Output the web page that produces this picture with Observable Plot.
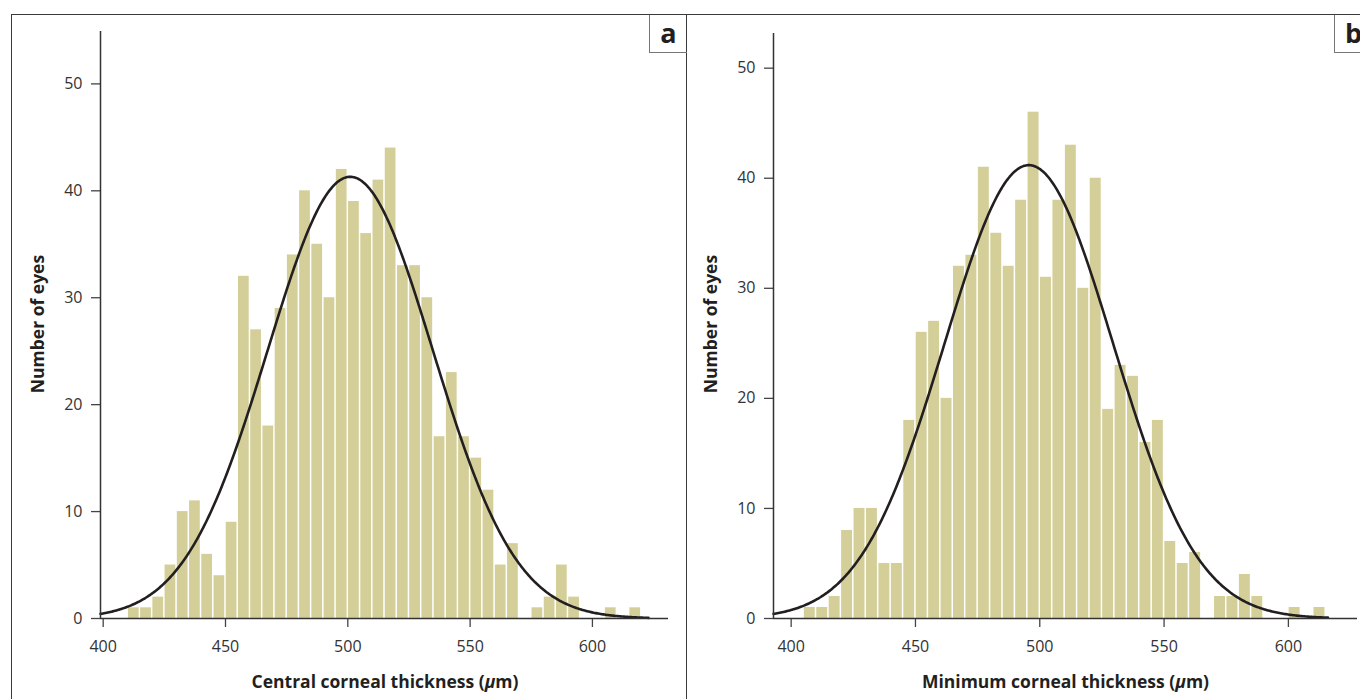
<!DOCTYPE html>
<html>
<head>
<meta charset="utf-8">
<script src="https://cdn.jsdelivr.net/npm/d3@7"></script>
<script src="https://cdn.jsdelivr.net/npm/@observablehq/plot@0.6"></script>
<style>
  html, body { margin: 0; padding: 0; background: #fff; }
  body { width: 1360px; height: 699px; position: relative; overflow: hidden; font-family: "Open Sans", sans-serif; }
  .panel { position: absolute; top: 0; width: 686px; height: 699px; }
  .panel svg { max-width: none !important; }
  .frame { position: absolute; box-sizing: border-box; border-top: 1.5px solid #3a3a3a; border-left: 1.5px solid #3a3a3a; }
  .tag { position: absolute; box-sizing: border-box; width: 38px; height: 38px; border-left: 1px solid #777; border-bottom: 1px solid #777;
         font: bold 27px "Open Sans", sans-serif; color: #231f20; display: flex; align-items: center; justify-content: center; line-height: 1; padding-bottom: 3px; }
</style>
</head>
<body>
<div class="frame" style="left:11px;top:14px;width:676px;height:720px;"></div>
<div class="frame" style="left:686px;top:14px;width:720px;height:720px;"></div>
<div id="pa" class="panel" style="left:0px;"></div>
<div id="pb" class="panel" style="left:686px;"></div>
<div class="tag" style="left:649px;top:15px;">a</div>
<div class="tag" style="left:1334px;top:15px;">b</div>
<script>
// ---- Data ----
const binWidth = 5;
// Panel a: Central corneal thickness
const binStartsA = [410,415,420,425,430,435,440,445,450,455,460,465,470,475,480,485,490,495,500,505,510,515,520,525,530,535,540,545,550,555,560,565,570,575,580,585,590,595,600,605,610,615];
const countsA    = [1,1,2,5,10,11,6,4,9,32,27,18,29,34,40,35,30,42,39,36,41,44,33,33,30,17,23,17,15,12,5,7,0,1,2,5,2,0,0,1,0,1];
// Panel b: Minimum corneal thickness
const binStartsB = [405,410,415,420,425,430,435,440,445,450,455,460,465,470,475,480,485,490,495,500,505,510,515,520,525,530,535,540,545,550,555,560,565,570,575,580,585,590,595,600,605,610];
const countsB    = [1,1,2,8,10,10,5,5,18,26,27,20,32,33,41,35,32,38,46,31,38,43,30,40,19,23,22,16,18,7,5,6,0,2,2,4,2,0,0,1,0,1];
const fitA = {mean: 501, sd: 33.8, n: 700, from: 398.9, to: 623};
const fitB = {mean: 495.6, sd: 33.9, n: 700, from: 392.9, to: 616};
const ticksX = [400, 450, 500, 550, 600];
const ticksY = [0, 10, 20, 30, 40, 50];
const labelsA = {x: "Central corneal thickness (", y: "Number of eyes"};
const labelsB = {x: "Minimum corneal thickness (", y: "Number of eyes"};

function bins(starts, counts) {
  return starts.map((s, i) => ({x1: s, x2: s + binWidth, count: counts[i]})).filter(d => d.count > 0);
}
function normalCurve(fit) {
  const pts = [];
  const k = fit.n * binWidth / (fit.sd * Math.sqrt(2 * Math.PI));
  for (let x = fit.from; x <= fit.to + 1e-9; x += 0.5) {
    const z = (x - fit.mean) / fit.sd;
    pts.push({x, y: k * Math.exp(-0.5 * z * z)});
  }
  return pts;
}

function panel(opts) {
  const {data, curve, xDomain, yMax, margins, width} = opts;
  const svg = Plot.plot({
    width, height: 699,
    marginLeft: margins[0], marginRight: margins[1], marginTop: margins[2], marginBottom: margins[3],
    x: {domain: xDomain},
    y: {domain: [0, yMax]},
    style: {fontFamily: "'Open Sans', sans-serif", fontSize: "16px", color: "#333", background: "transparent", overflow: "visible", maxWidth: "none"},
    marks: [
      Plot.rectY(data, {x1: "x1", x2: "x2", y: "count", fill: "#d4cf99", insetLeft: 0.75, insetRight: 0.75}),
      Plot.line(curve, {x: "x", y: "y", stroke: "#231f20", strokeWidth: 2.6}),
      Plot.axisX({ticks: ticksX, tickSize: 9, tickPadding: 13, label: null, stroke: "#444", strokeWidth: 1.3, fill: "#333", fontSize: 16}),
      Plot.axisY({ticks: ticksY, tickSize: 9, tickPadding: 9, label: null, stroke: "#444", strokeWidth: 1.3, fill: "#333", fontSize: 16}),
      Plot.ruleX([xDomain[0]], {y1: 0, y2: yMax, stroke: "#333", strokeWidth: 1.5}),
      Plot.ruleY([0], {x1: xDomain[0], x2: xDomain[1], stroke: "#333", strokeWidth: 1.5})
    ]
  });
  const s = d3.select(svg);
  const xl = s.append("text")
    .attr("x", opts.xLabelPos[0]).attr("y", opts.xLabelPos[1])
    .attr("text-anchor", "middle").attr("font-weight", "bold").attr("font-size", 17.5)
    .attr("fill", "#231f20").attr("font-family", "'Open Sans', sans-serif");
  xl.append("tspan").text(opts.labels.x);
  xl.append("tspan").attr("font-style", "italic").text("μ");
  xl.append("tspan").text("m)");
  s.append("text")
    .attr("transform", `translate(${opts.yLabelPos[0]},${opts.yLabelPos[1]}) rotate(-90)`)
    .attr("text-anchor", "middle").attr("font-weight", "bold").attr("font-size", 17.5)
    .attr("fill", "#231f20").attr("font-family", "'Open Sans', sans-serif")
    .text(opts.labels.y);
  return svg;
}

document.getElementById("pa").appendChild(panel({
  data: bins(binStartsA, countsA), curve: normalCurve(fitA),
  xDomain: [398.9, 631.1], yMax: 54.9, width: 686,
  margins: [100, 18, 31, 81],
  xLabelPos: [385, 688], yLabelPos: [44, 324], labels: labelsA
}));
document.getElementById("pb").appendChild(panel({
  data: bins(binStartsB, countsB), curve: normalCurve(fitB),
  xDomain: [392.9, 627.8], yMax: 53.15, width: 686,
  margins: [87, 15, 33, 81],
  xLabelPos: [379.5, 688], yLabelPos: [31, 324], labels: labelsB
}));
</script>
</body>
</html>
